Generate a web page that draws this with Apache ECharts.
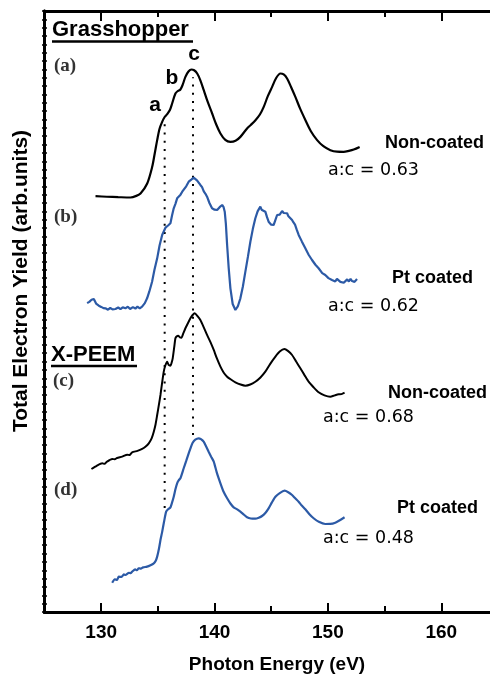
<!DOCTYPE html>
<html>
<head>
<meta charset="utf-8">
<script src="https://cdn.jsdelivr.net/npm/echarts@6/dist/echarts.min.js"></script>
<style>
html,body{margin:0;padding:0;background:#fff;}
#chart{width:490px;height:676px;}
</style>
</head>
<body>
<div id="chart"></div>
<script>
// Photon energy (eV) vs total electron yield (arb. units, vertically offset spectra)
var curveA = [[129.50,49.82],[130.5,49.75],[131.5,49.70],[132.58,49.66],[133.1,49.85],[133.47,50.14],[134.06,51.34],[134.50,53.33],[134.72,54.9],[134.94,56.53],[135.15,57.9],[135.38,58.72],[135.6,59.3],[135.82,59.64],[136.05,60.1],[136.26,60.92],[136.55,62.12],[136.75,62.4],[136.99,62.60],[137.2,63.2],[137.43,64.11],[137.7,64.75],[137.96,64.99],[138.2,64.9],[138.47,64.51],[138.75,63.7],[139.05,62.51],[139.4,61.1],[139.79,59.72],[140.15,58.4],[140.52,57.33],[140.95,56.55],[141.40,56.32],[141.85,56.45],[142.28,56.92],[142.87,57.93],[143.2,58.35],[143.61,58.92],[144.0,59.6],[144.34,60.51],[144.7,61.8],[145.08,62.91],[145.45,64.0],[145.81,64.51],[146.1,64.4],[146.40,63.92],[146.75,62.9],[147.13,61.71],[147.55,60.3],[148.02,58.92],[148.5,57.6],[149.05,56.53],[149.6,55.8],[150.22,55.33],[150.8,55.15],[151.39,55.13],[151.85,55.25],[152.28,55.41],[152.80,55.72]];

var curveB = [[128.76,37.00],[128.95,37.15],[129.15,37.40],[129.35,37.50],[129.55,36.95],[129.79,36.70],[130.0,36.55],[130.2,36.40],[130.38,36.38],[130.6,36.22],[130.8,36.42],[131.0,36.25],[131.26,36.30],[131.5,36.48],[131.7,36.28],[131.9,36.50],[132.14,36.38],[132.35,36.58],[132.55,36.30],[132.8,36.52],[133.02,36.35],[133.2,36.58],[133.4,36.38],[133.61,36.58],[133.85,37.0],[134.05,37.58],[134.25,38.4],[134.49,39.57],[134.7,41.0],[134.94,42.37],[135.15,43.9],[135.38,45.17],[135.67,46.04],[135.9,46.3],[136.11,46.57],[136.25,47.5],[136.40,48.36],[136.55,48.9],[136.70,49.56],[136.85,49.7],[137.0,50.0],[137.15,50.35],[137.28,50.56],[137.5,51.0],[137.6,50.9],[137.72,51.55],[137.95,51.8],[138.16,52.03],[138.3,51.85],[138.45,51.7],[138.6,51.5],[138.75,51.16],[138.9,50.9],[139.05,50.4],[139.2,50.1],[139.34,49.75],[139.55,49.0],[139.78,48.36],[140.0,48.2],[140.23,48.16],[140.45,48.5],[140.67,48.76],[140.80,48.5],[140.90,47.96],[141.0,46.5],[141.11,43.97],[141.25,41.2],[141.40,38.78],[141.6,36.9],[141.84,36.18],[142.05,36.6],[142.28,37.58],[142.5,39.0],[142.72,40.77],[142.95,42.6],[143.16,44.36],[143.38,45.9],[143.60,47.17],[143.8,48.0],[144.04,48.56],[144.15,48.2],[144.25,48.35],[144.48,47.96],[144.63,47.3],[144.77,46.76],[145.0,46.4],[145.21,46.36],[145.35,46.9],[145.52,47.56],[145.65,47.75],[145.75,47.6],[145.96,48.04],[146.1,47.8],[146.2,47.95],[146.40,47.77],[146.5,47.45],[146.6,47.6],[146.84,46.96],[146.95,46.7],[147.1,46.4],[147.25,45.8],[147.42,45.17],[147.55,45.0],[147.7,44.4],[147.85,44.2],[148.01,43.57],[148.15,43.5],[148.3,42.8],[148.45,42.7],[148.60,42.17],[148.75,42.0],[148.9,41.6],[149.05,41.55],[149.18,41.18],[149.35,41.0],[149.5,40.6],[149.65,40.7],[149.77,40.37],[149.9,40.45],[150.05,40.0],[150.2,40.1],[150.36,39.77],[150.5,39.95],[150.65,39.6],[150.8,39.9],[150.95,39.77],[151.1,39.55],[151.25,39.75],[151.4,39.45],[151.54,39.57],[151.7,39.85],[151.85,39.6],[152.0,39.9],[152.13,39.65],[152.25,39.8],[152.35,39.55],[152.57,39.89]];

var curveC = [[129.14,17.13],[129.6,17.5],[130.09,17.81],[130.3,17.75],[130.5,18.0],[130.97,18.33],[131.2,18.3],[131.4,18.45],[131.85,18.61],[132.3,18.85],[132.5,18.8],[132.73,19.13],[133.2,19.3],[133.61,19.53],[133.9,19.8],[134.20,20.21],[134.45,20.8],[134.64,21.60],[134.8,22.5],[134.94,23.60],[135.1,24.9],[135.23,26.00],[135.38,27.5],[135.52,28.79],[135.65,29.5],[135.82,29.99],[135.95,29.6],[136.11,29.51],[136.2,29.8],[136.31,30.39],[136.45,31.8],[136.55,32.79],[136.65,33.0],[136.79,33.10],[136.95,32.9],[137.08,32.86],[137.25,33.4],[137.43,33.99],[137.65,34.6],[137.87,35.19],[138.05,35.55],[138.25,35.79],[138.5,35.45],[138.75,34.98],[139.05,34.1],[139.34,33.19],[139.65,32.3],[139.93,31.39],[140.2,30.4],[140.52,29.39],[140.8,28.7],[141.11,28.19],[141.45,27.85],[141.84,27.52],[142.3,27.25],[142.72,27.11],[143.15,27.25],[143.60,27.59],[144.05,28.1],[144.48,28.79],[144.9,29.7],[145.37,30.59],[145.75,31.2],[146.16,31.51],[146.5,31.25],[146.84,30.79],[147.2,30.0],[147.57,29.20],[147.95,28.35],[148.30,27.59],[148.75,26.9],[149.18,26.32],[149.7,25.95],[150.21,25.79],[150.6,25.95],[150.95,26.08],[151.2,26.1],[151.47,26.27]];

var curveD = [[130.97,3.51],[131.2,3.9],[131.4,3.85],[131.55,4.23],[131.8,4.2],[132.0,4.5],[132.14,4.43],[132.45,4.7],[132.6,4.65],[132.73,4.83],[133.0,5.1],[133.15,5.0],[133.31,5.24],[133.5,5.2],[133.7,5.35],[134.05,5.43],[134.35,5.6],[134.64,5.83],[134.8,6.1],[134.94,6.63],[135.1,7.6],[135.23,8.63],[135.38,9.6],[135.52,10.63],[135.73,12.02],[135.9,12.3],[136.11,12.54],[136.25,13.1],[136.40,13.81],[136.55,14.7],[136.70,15.42],[136.85,15.8],[136.99,16.02],[137.28,17.22],[137.5,18.1],[137.72,19.01],[137.9,19.7],[138.07,20.28],[138.3,20.65],[138.60,20.81],[138.8,20.7],[139.04,20.40],[139.25,19.85],[139.48,19.20],[139.7,18.6],[139.93,18.01],[140.2,16.7],[140.52,15.42],[140.8,14.4],[141.11,13.62],[141.4,13.0],[141.69,12.54],[142.0,12.3],[142.28,12.02],[142.6,11.65],[142.87,11.35],[143.2,11.2],[143.60,11.18],[143.9,11.3],[144.19,11.50],[144.5,11.9],[144.77,12.42],[145.05,13.1],[145.37,13.81],[145.75,14.25],[146.18,14.53],[146.5,14.35],[146.84,14.02],[147.1,13.65],[147.42,13.21],[147.7,12.75],[148.01,12.30],[148.35,11.75],[148.74,11.23],[149.2,10.8],[149.77,10.54],[150.2,10.55],[150.65,10.70],[151.05,11.0],[151.47,11.35]];

// vertical dotted guides at features a and c
var dottedA = [[135.6,12.46],[135.6,58.56]];
var dottedC = [[138.1,21.2],[138.1,64.07]];

var xMin = 125, xMax = 164.3;
var yMin = 0, yMax = 72;
var majorTicks = [130,140,150,160];
var minorTicks = [135,145,155];
var tickLabels = [130,140,150,160];

var SANS = '"Liberation Sans", Arial, Helvetica, sans-serif';
var WIDE = '"DejaVu Sans", "Liberation Sans", sans-serif';
var SERIF = '"Liberation Serif", "Times New Roman", serif';
var BLUE = '#2c5aa6';

var chart = echarts.init(document.getElementById('chart'), null, {renderer:'canvas'});

function xAx(pos, ticks, len, showLabels){
  return {
    type:'value', min:xMin, max:xMax, position:pos, gridIndex:0,
    axisLine:{show:true, onZero:false, lineStyle:{color:'#000', width:3}},
    axisTick:{show:true, inside:true, length:len, customValues:ticks, lineStyle:{color:'#000', width:2}},
    axisLabel:showLabels ? {show:true, customValues:tickLabels, color:'#000', fontSize:19, fontWeight:'bold', fontFamily:SANS, margin:11} : {show:false},
    splitLine:{show:false}
  };
}
function yAx(inside){
  return {
    type:'value', min:yMin, max:yMax, interval:1, position:'left', gridIndex:0,
    axisLine:{show:true, onZero:false, lineStyle:{color:'#000', width:3}},
    axisTick:{show:true, inside:inside, length:2.5, lineStyle:{color:'#000', width:1.5}},
    axisLabel:{show:false},
    splitLine:{show:false}
  };
}

function lineSeries(data, color, width, smooth){
  return {type:'line', data:data, xAxisIndex:0, yAxisIndex:0, showSymbol:false, symbol:'none',
    smooth:smooth, lineStyle:{color:color, width:width}, silent:true, animation:false};
}
function dotSeries(data){
  return {type:'line', data:data, xAxisIndex:0, yAxisIndex:0, showSymbol:false, symbol:'none',
    lineStyle:{color:'#000', width:2, type:[2,6.3]}, silent:true, animation:false};
}

function txt(text, x, y, font, opts){
  opts = opts || {};
  return {type:'text', x:x, y:y, rotation:opts.rotation||0, silent:true, z:10,
    style:{text:text, font:font, fill:opts.fill||'#000', align:opts.align||'left', verticalAlign:'middle'}};
}
function uline(x1, x2, y){
  return {type:'line', silent:true, z:10, shape:{x1:x1, y1:y, x2:x2, y2:y}, style:{stroke:'#000', lineWidth:2.5}};
}

var option = {
  animation:false,
  backgroundColor:'#fff',
  grid:{left:44.5, right:0, top:11, bottom:64, containLabel:false},
  xAxis:[
    xAx('bottom', majorTicks, 9, true),
    xAx('bottom', minorTicks, 6, false),
    xAx('top', majorTicks, 10, false),
    xAx('top', minorTicks, 6, false)
  ],
  yAxis:[yAx(false), yAx(true)],
  series:[
    dotSeries(dottedA),
    dotSeries(dottedC),
    lineSeries(curveA, '#000', 2.2, 0.3),
    lineSeries(curveB, BLUE, 2.2, false),
    lineSeries(curveC, '#000', 2, 0.2),
    lineSeries(curveD, BLUE, 2.2, 0.2)
  ],
  graphic:[
    txt('Grasshopper', 52, 30, 'bold 22px ' + SANS),
    uline(52, 193, 41.5),
    txt('X-PEEM', 51, 355, 'bold 22px ' + SANS),
    uline(51, 137, 366),
    txt('(a)', 54, 66, 'bold 19px ' + SERIF, {fill:'#333'}),
    txt('(b)', 54, 217, 'bold 19px ' + SERIF, {fill:'#333'}),
    txt('(c)', 53, 381, 'bold 19px ' + SERIF, {fill:'#333'}),
    txt('(d)', 54, 490, 'bold 19px ' + SERIF, {fill:'#333'}),
    txt('a', 155, 105, 'bold 21px ' + SANS, {align:'center'}),
    txt('b', 172, 78, 'bold 21px ' + SANS, {align:'center'}),
    txt('c', 194, 54, 'bold 21px ' + SANS, {align:'center'}),
    txt('Non-coated', 385, 143, 'bold 18px ' + SANS),
    txt('a:c = 0.63', 328, 170, '17.5px ' + WIDE),
    txt('Pt coated', 392, 278, 'bold 18px ' + SANS),
    txt('a:c = 0.62', 328, 306, '17.5px ' + WIDE),
    txt('Non-coated', 388, 393, 'bold 18px ' + SANS),
    txt('a:c = 0.68', 323, 417, '17.5px ' + WIDE),
    txt('Pt coated', 397, 508, 'bold 18px ' + SANS),
    txt('a:c = 0.48', 323, 538, '17.5px ' + WIDE),
    txt('Photon Energy (eV)', 277, 665, 'bold 19px ' + SANS, {align:'center'}),
    txt('Total Electron Yield (arb.units)', 21, 281, 'bold 21px ' + SANS, {align:'center', rotation:Math.PI/2})
  ]
};
chart.setOption(option);
</script>
</body>
</html>
